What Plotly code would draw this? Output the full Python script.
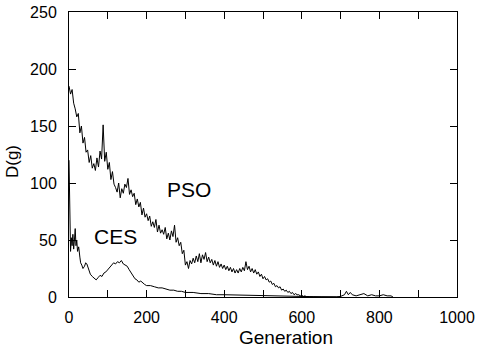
import plotly.graph_objects as go

pso_gen = list(range(0, 624, 4)) + [630, 650, 670, 690, 700, 710, 715, 720, 725, 730, 740, 750, 760, 770, 780, 790, 800, 810, 820, 830, 835]
pso_val = [185, 178, 182, 170, 165, 158, 161, 144, 150, 135,
           140, 127, 129, 118, 124, 113, 117, 111, 122, 114,
           128, 121, 151, 119, 127, 112, 118, 103, 110, 99,
           96, 92, 100, 87, 95, 91, 99, 96, 104, 90,
           94, 88, 91, 81, 86, 79, 83, 72, 78, 70,
           73, 67, 71, 62, 66, 61, 68, 57, 63, 56,
           59, 55, 61, 51, 56, 50, 58, 53, 63, 48,
           52, 45, 48, 38, 41, 28, 31, 25, 32, 29,
           34, 30, 36, 31, 38, 30, 37, 33, 39, 31,
           35, 30, 33, 28, 32, 27, 31, 26, 29, 25,
           28, 24, 27, 23, 26, 22, 25, 21, 24, 21,
           25, 22, 26, 23, 31, 24, 27, 22, 25, 21,
           24, 20, 22, 18, 20, 16, 18, 15, 16, 13,
           14, 11, 12, 9, 10, 8, 9, 6, 7, 5,
           6, 4, 5, 3, 4, 2, 3, 2, 2, 1,
           1.5, 0.5, 1, 0.3, 0.5, 0.2,
           0.2, 0.1, 0.2, 0.1, 0.5, 2, 5, 2, 4, 2, 1, 2, 3, 1, 2, 1, 1, 2, 1, 1, 0]

ces_gen = [0, 2, 4, 6, 8, 10, 12, 14, 16, 18, 20, 22, 25, 28, 30, 33, 36, 40, 43, 46, 50, 55, 60, 65, 70, 75,
           80, 85, 90, 95, 100, 105, 110, 115, 120, 125, 130, 135, 140, 145, 150, 155, 160, 165, 170, 175,
           180, 185, 190, 195, 200, 210, 220, 230, 240, 250, 260, 270, 280, 290, 300, 320, 340, 360, 380,
           400, 450, 500, 550, 600, 650, 700]
ces_val = [120, 80, 40, 52, 45, 55, 42, 50, 60, 45, 50, 40, 44, 35, 30, 28, 25, 27, 30, 29, 24, 20, 18, 16, 15, 17,
           19, 18, 21, 22, 24, 26, 27, 30, 29, 31, 30, 32, 29, 28, 27, 24, 21, 19, 16, 15,
           13, 14, 12, 11, 10, 10, 9, 8, 8, 7, 6, 6, 5, 5, 4, 4, 3, 3, 2,
           2, 1.5, 1, 0.5, 0.2, 0.1, 0]

x_ticks = list(range(0, 1100, 100))
x_ticktext = [str(v) if v % 200 == 0 else "" for v in x_ticks]
y_ticks = [0, 50, 100, 150, 200, 250]

FONT = "Liberation Sans, Arial, Helvetica"

fig = go.Figure()
fig.add_trace(go.Scatter(x=pso_gen, y=pso_val, mode="lines",
                         line=dict(color="black", width=1), showlegend=False))
fig.add_trace(go.Scatter(x=ces_gen, y=ces_val, mode="lines",
                         line=dict(color="black", width=1), showlegend=False))

fig.add_annotation(x=309, y=94, text="PSO", showarrow=False,
                   font=dict(family=FONT, size=21, color="black"))
fig.add_annotation(x=118.6, y=53.5, text="CES", showarrow=False,
                   font=dict(family=FONT, size=21, color="black"))
fig.add_annotation(x=0.559, y=-0.143, xref="paper", yref="paper", text="Generation",
                   showarrow=False, xanchor="center", yanchor="middle",
                   font=dict(family=FONT, size=19, color="black"))
fig.add_annotation(x=-0.147, y=0.477, xref="paper", yref="paper", text="D(g)",
                   showarrow=False, xanchor="center", yanchor="middle", textangle=-90,
                   font=dict(family=FONT, size=17, color="black"))

axis_common = dict(showline=True, linecolor="black", linewidth=1, mirror="ticks",
                   ticks="inside", ticklen=7, tickcolor="black", tickwidth=1,
                   showgrid=False, zeroline=False, automargin=False,
                   tickfont=dict(family=FONT, size=16, color="black"))

fig.update_xaxes(range=[0, 1000], tickmode="array", tickvals=x_ticks, ticktext=x_ticktext,
                 ticklabelstandoff=6, **axis_common)
fig.update_yaxes(range=[0, 250], tickmode="array", tickvals=y_ticks,
                 ticklabelstandoff=8, **axis_common)

fig.update_layout(width=479, height=347, margin=dict(l=69, r=22, t=12, b=50),
                  plot_bgcolor="white", paper_bgcolor="white")

fig.write_html("out.html")
